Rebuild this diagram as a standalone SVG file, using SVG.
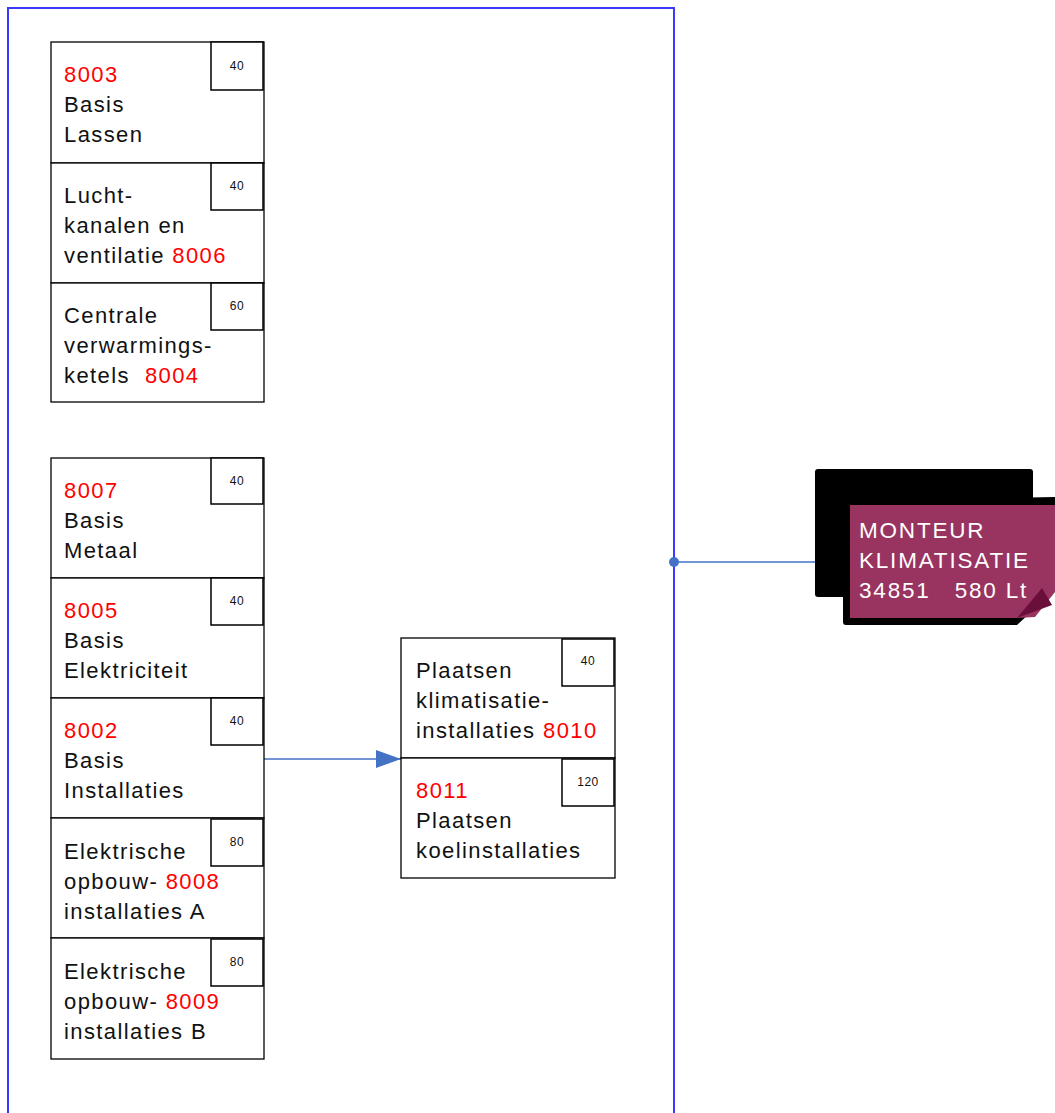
<svg xmlns="http://www.w3.org/2000/svg" width="1055" height="1113" viewBox="0 0 1055 1113">
<style>
.box{fill:#fff;stroke:#000;stroke-width:1.3}
.sb{fill:#fff;stroke:#000;stroke-width:1.5}
.t{font-family:"Liberation Sans",Arial,sans-serif;font-size:22px;fill:#111;letter-spacing:1.4px;white-space:pre}
.r{fill:#ff0000}
.n{font-family:"Liberation Sans",Arial,sans-serif;font-size:12px;fill:#111;text-anchor:middle;letter-spacing:0.5px}
.w{font-family:"Liberation Sans",Arial,sans-serif;font-size:22.5px;fill:#fff;letter-spacing:1.8px;white-space:pre}
</style>
<defs>
<marker id="ah" viewBox="0 0 10 10" refX="10" refY="5" markerWidth="25" markerHeight="18" markerUnits="userSpaceOnUse" orient="auto" preserveAspectRatio="none">
<path d="M0,0 L10,5 L0,10 z" fill="#4472C4"/>
</marker>
</defs>
<rect x="8" y="8" width="666" height="1120" fill="none" stroke="#3a3aff" stroke-width="2"/>
<g id="connectors">
<line x1="264" y1="759" x2="401" y2="759" stroke="#4472C4" stroke-width="1.3" marker-end="url(#ah)"/>
<line x1="674" y1="562" x2="816" y2="562" stroke="#4472C4" stroke-width="1.3"/>
<circle cx="674" cy="562" r="5" fill="#4472C4"/>
</g>
<g id="n8003">
<rect class="box" x="51" y="42" width="213" height="121"/>
<rect class="sb" x="211" y="42" width="52" height="48"/>
<text class="n" x="237" y="70">40</text>
<text class="t" x="64" y="82"><tspan class="r">8003</tspan><tspan x="64" dy="30">Basis</tspan><tspan x="64" dy="30">Lassen</tspan></text>
</g>
<g id="n8006">
<rect class="box" x="51" y="163" width="213" height="120"/>
<rect class="sb" x="211" y="163" width="52" height="47"/>
<text class="n" x="237" y="190">40</text>
<text class="t" x="64" y="203">Lucht-<tspan x="64" dy="30">kanalen en</tspan><tspan x="64" dy="30">ventilatie <tspan class="r">8006</tspan></tspan></text>
</g>
<g id="n8004">
<rect class="box" x="51" y="283" width="213" height="119"/>
<rect class="sb" x="211" y="283" width="52" height="47"/>
<text class="n" x="237" y="310">60</text>
<text class="t" x="64" y="323">Centrale<tspan x="64" dy="30">verwarmings-</tspan><tspan x="64" dy="30">ketels  <tspan class="r">8004</tspan></tspan></text>
</g>
<g id="n8007">
<rect class="box" x="51" y="458" width="213" height="120"/>
<rect class="sb" x="211" y="458" width="52" height="46"/>
<text class="n" x="237" y="485">40</text>
<text class="t" x="64" y="498"><tspan class="r">8007</tspan><tspan x="64" dy="30">Basis</tspan><tspan x="64" dy="30">Metaal</tspan></text>
</g>
<g id="n8005">
<rect class="box" x="51" y="578" width="213" height="120"/>
<rect class="sb" x="211" y="578" width="52" height="47"/>
<text class="n" x="237" y="605">40</text>
<text class="t" x="64" y="618"><tspan class="r">8005</tspan><tspan x="64" dy="30">Basis</tspan><tspan x="64" dy="30">Elektriciteit</tspan></text>
</g>
<g id="n8002">
<rect class="box" x="51" y="698" width="213" height="120"/>
<rect class="sb" x="211" y="698" width="52" height="47"/>
<text class="n" x="237" y="725">40</text>
<text class="t" x="64" y="738"><tspan class="r">8002</tspan><tspan x="64" dy="30">Basis</tspan><tspan x="64" dy="30">Installaties</tspan></text>
</g>
<g id="n8008">
<rect class="box" x="51" y="818" width="213" height="120"/>
<rect class="sb" x="211" y="819" width="52" height="47"/>
<text class="n" x="237" y="846">80</text>
<text class="t" x="64" y="859">Elektrische<tspan x="64" dy="30">opbouw- <tspan class="r">8008</tspan></tspan><tspan x="64" dy="30">installaties A</tspan></text>
</g>
<g id="n8009">
<rect class="box" x="51" y="938" width="213" height="121"/>
<rect class="sb" x="211" y="939" width="52" height="47"/>
<text class="n" x="237" y="966">80</text>
<text class="t" x="64" y="979">Elektrische<tspan x="64" dy="30">opbouw- <tspan class="r">8009</tspan></tspan><tspan x="64" dy="30">installaties B</tspan></text>
</g>
<g id="n8010">
<rect class="box" x="401" y="638" width="214" height="120"/>
<rect class="sb" x="562" y="639" width="52" height="47"/>
<text class="n" x="588" y="665">40</text>
<text class="t" x="416" y="678">Plaatsen<tspan x="416" dy="30">klimatisatie-</tspan><tspan x="416" dy="30">installaties <tspan class="r">8010</tspan></tspan></text>
</g>
<g id="n8011">
<rect class="box" x="401" y="758" width="214" height="120"/>
<rect class="sb" x="562" y="759" width="52" height="47"/>
<text class="n" x="588" y="786">120</text>
<text class="t" x="416" y="798"><tspan class="r">8011</tspan><tspan x="416" dy="30">Plaatsen</tspan><tspan x="416" dy="30">koelinstallaties</tspan></text>
</g>
<g id="monteur">
<rect x="815" y="469" width="218" height="128" rx="3" fill="#000"/>
<path d="M846,501 L1055,497 L1055,590 L1017,625 L846,625 Q843,625 843,622 L843,504 Q843,501 846,501 z" fill="#000"/>
<path d="M850,505 L1055,505 L1055,592 L1035,617 L1017,618 L850,618 z" fill="#993360"/>
<path d="M1017,618 L1042,588 L1052,605 z" fill="#6a0f3a"/>
<text class="w" x="859" y="538">MONTEUR<tspan x="859" dy="30">KLIMATISATIE</tspan><tspan x="859" dy="30">34851   580 Lt</tspan></text>
</g>
</svg>
